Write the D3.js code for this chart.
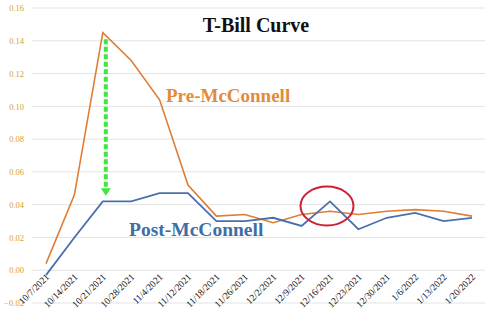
<!DOCTYPE html>
<html>
<head>
<meta charset="utf-8">
<script src="https://cdn.jsdelivr.net/npm/d3@7"></script>
<style>
  html, body { margin: 0; padding: 0; background: #fff; }
  svg { display: block; }
</style>
</head>
<body>
<svg id="chart" width="500" height="323"></svg>
<script>
// Weekly auction dates
const dates = ["10/7/2021","10/14/2021","10/21/2021","10/28/2021","11/4/2021","11/12/2021",
  "11/18/2021","11/26/2021","12/2/2021","12/9/2021","12/16/2021","12/23/2021",
  "12/30/2021","1/6/2022","1/13/2022","1/20/2022"];

// Curve before the debt-ceiling deal
const preMcConnell = [0.004, 0.046, 0.145, 0.128, 0.104, 0.052, 0.033, 0.034,
  0.029, 0.034, 0.036, 0.034, 0.036, 0.037, 0.036, 0.033];

// Curve after the deal
const postMcConnell = [-0.003, 0.020, 0.042, 0.042, 0.047, 0.047, 0.030, 0.030,
  0.032, 0.027, 0.042, 0.025, 0.032, 0.035, 0.030, 0.032];

const yTicks = [-0.02, 0.00, 0.02, 0.04, 0.06, 0.08, 0.10, 0.12, 0.14, 0.16];

const svg = d3.select("#chart");
const serif = "'Liberation Serif', 'DejaVu Serif', serif";

const x = d3.scalePoint().domain(dates).range([46, 472]);
const y = d3.scaleLinear().domain([-0.02, 0.16]).range([303, 8]);

// Horizontal gridlines
svg.append("g")
  .selectAll("line")
  .data(yTicks)
  .join("line")
  .attr("x1", 32).attr("x2", 485)
  .attr("y1", d => y(d)).attr("y2", d => y(d))
  .attr("stroke", "#e3e3e3").attr("stroke-width", 1);

// Y axis labels
const yAxis = svg.append("g")
  .attr("transform", "translate(24,0)")
  .call(d3.axisLeft(y).tickValues(yTicks).tickFormat(d3.format(".2f")).tickSize(0).tickPadding(0));
yAxis.select(".domain").remove();
yAxis.selectAll("text")
  .attr("fill", "#d6a030")
  .style("font-family", serif)
  .style("font-size", "8.5px");

// X axis labels, rotated
const xAxis = svg.append("g")
  .attr("transform", `translate(1,${y(0) + 5})`)
  .call(d3.axisBottom(x).tickSize(0).tickPadding(0));
xAxis.select(".domain").remove();
xAxis.selectAll("text")
  .attr("fill", "#111")
  .style("font-family", serif)
  .style("font-size", "9.5px")
  .attr("text-anchor", "end")
  .attr("dy", "0.35em")
  .attr("transform", "rotate(-45)");

const line = d3.line().x((d, i) => x(dates[i])).y(d => y(d));

svg.append("path")
  .datum(preMcConnell)
  .attr("d", line)
  .attr("fill", "none")
  .attr("stroke", "#e07d35")
  .attr("stroke-width", 1.6);

svg.append("path")
  .datum(postMcConnell)
  .attr("d", line)
  .attr("fill", "none")
  .attr("stroke", "#4a70ac")
  .attr("stroke-width", 1.8);

// Green dashed arrow from the pre peak down to the post level
const arrowX = x(dates[2]) + 3;
svg.append("line")
  .attr("x1", arrowX).attr("x2", arrowX)
  .attr("y1", y(0.141)).attr("y2", y(0.050))
  .attr("stroke", "#3ee83e")
  .attr("stroke-width", 4)
  .attr("stroke-dasharray", "5,2.5");
svg.append("path")
  .attr("d", `M${arrowX - 5},${y(0.050)} L${arrowX + 5},${y(0.050)} L${arrowX},${y(0.0455)} Z`)
  .attr("fill", "#3ee83e");

// Red ring around the 12/16 spike
svg.append("ellipse")
  .attr("cx", x(dates[10]) - 3)
  .attr("cy", y(0.0392))
  .attr("rx", 26.5).attr("ry", 19.5)
  .attr("fill", "none")
  .attr("stroke", "#cc2035")
  .attr("stroke-width", 2);

// Title and series labels
svg.append("text")
  .attr("x", 256).attr("y", 32)
  .attr("text-anchor", "middle")
  .style("font-family", serif)
  .style("font-weight", "bold")
  .style("font-size", "20px")
  .attr("fill", "#111")
  .text("T-Bill Curve");

svg.append("text")
  .attr("x", 166).attr("y", 102)
  .style("font-family", serif)
  .style("font-weight", "bold")
  .style("font-size", "19px")
  .attr("fill", "#e28b3a")
  .text("Pre-McConnell");

svg.append("text")
  .attr("x", 129).attr("y", 236)
  .style("font-family", serif)
  .style("font-weight", "bold")
  .style("font-size", "19.5px")
  .attr("fill", "#3f6ea6")
  .text("Post-McConnell");
</script>
</body>
</html>
